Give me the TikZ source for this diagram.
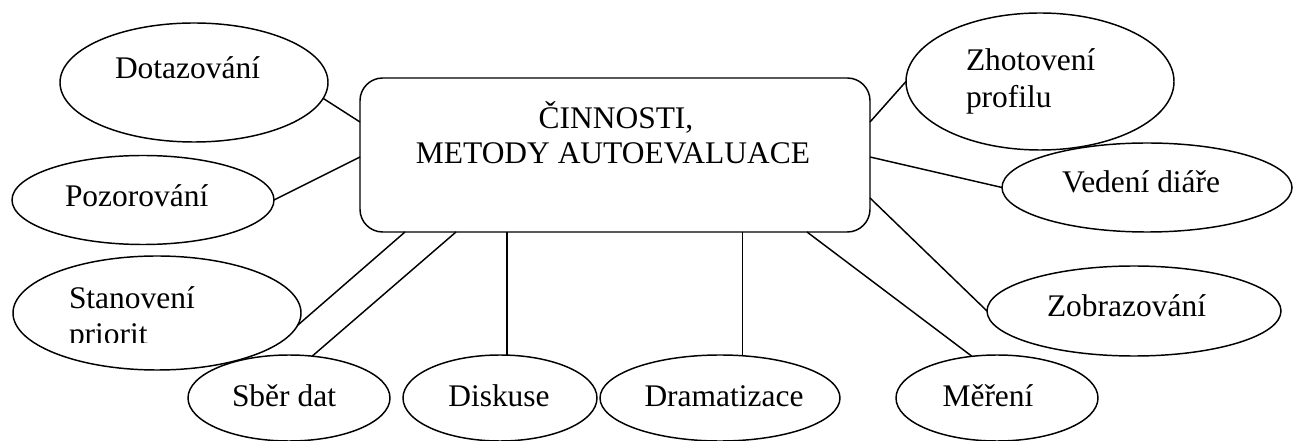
\documentclass[tikz,border=0pt]{standalone}
\usepackage{fontspec}
\setmainfont{Liberation Serif}
\usetikzlibrary{shapes.geometric,calc}
\begin{document}
\begin{tikzpicture}[x=0.75pt,y=-0.75pt,
  ell/.style 2 args={ellipse,draw,fill=white,line width=1.1pt,inner sep=0pt,outer sep=0pt,minimum width=#1*1.5pt,minimum height=#2*1.5pt},
  centerbox/.style={rectangle,draw,fill=white,line width=1.1pt,rounded corners=17pt,inner sep=0pt,outer sep=0pt,minimum width=382.5pt,minimum height=115.5pt},
  lbl/.style={inner sep=0pt,outer sep=0pt,font=\fontsize{23.6}{27}\selectfont},
  conn/.style={line width=1.1pt}]
\useasboundingbox (0,0) rectangle (1293,441);

% connectors are drawn first, then shapes over them
\node[centerbox] (box) at (615,155) {};
\node[ell={134}{59.5}] (dot) at (194,82.5) {};
\node[ell={131}{44.5}] (poz) at (143,200) {};
\node[ell={144}{57}] (stan) at (157,313) {};
\node[ell={101}{43}] (sber) at (289,398) {};
\node[ell={97}{43}] (disk) at (500,398) {};
\node[ell={120}{43}] (dram) at (720,398) {};
\node[ell={101}{43}] (mer) at (997,398) {};
\node[ell={147}{45}] (zobr) at (1134,311) {};
\node[ell={134}{68.5}] (zhot) at (1040,81.5) {};
\node[ell={145}{44.5}] (ved) at (1147,187.5) {};

\draw[conn] ($(box.north west)+(0,44)$) -- (dot.-7);
\draw[conn] ($(box.north west)+(0,79)$) -- (poz.east);
\draw[conn] ($(box.south west)+(45,0)$) -- (stan.-5);
\draw[conn] ($(box.south west)+(96,0)$) -- (sber.61);
\draw[conn] (disk.81 |- box.south) -- (disk.81);
\draw[conn] (dram.62.5 |- box.south) -- (dram.62.5);
\draw[conn] ($(box.south west)+(447,0)$) -- (mer.121);
\draw[conn] ($(box.north east)+(0,120)$) -- (zobr.west);
\draw[conn] ($(box.north east)+(0,79)$) -- (ved.west);
\draw[conn] ($(box.north east)+(0,44)$) -- (zhot.west);

% labels
\node[lbl,anchor=base] (t0a) at (616,129) {ČINNOSTI,};
\node[lbl,anchor=base] (t0b) at (613,164) {METODY AUTOEVALUACE};
\node[lbl,anchor=base west] (t1) at (115,79) {Dotazování};
\node[lbl,anchor=base west] (t2) at (65,207) {Pozorování};
\node[lbl,anchor=base west] (t3a) at (69,309) {Stanovení};
\begin{scope}
\clip (0,0) rectangle (1293,343);
\node[lbl,anchor=base west] (t3b) at (69,345) {priorit};
\end{scope}
\node[lbl,anchor=base west] (t4) at (232,407) {Sběr dat};
\node[lbl,anchor=base] (t5) at (499,407) {Diskuse};
\node[lbl,anchor=base] (t6) at (724,407) {Dramatizace};
\node[lbl,anchor=base] (t7) at (988,407) {Měření};
\node[lbl,anchor=base west] (t8) at (1047,317) {Zobrazování};
\node[lbl,anchor=base west] (t9) at (1062,193) {Vedení diáře};
\node[lbl,anchor=base west] (t10a) at (966,71) {Zhotovení};
\node[lbl,anchor=base west] (t10b) at (966,108) {profilu};
\end{tikzpicture}
\end{document}
